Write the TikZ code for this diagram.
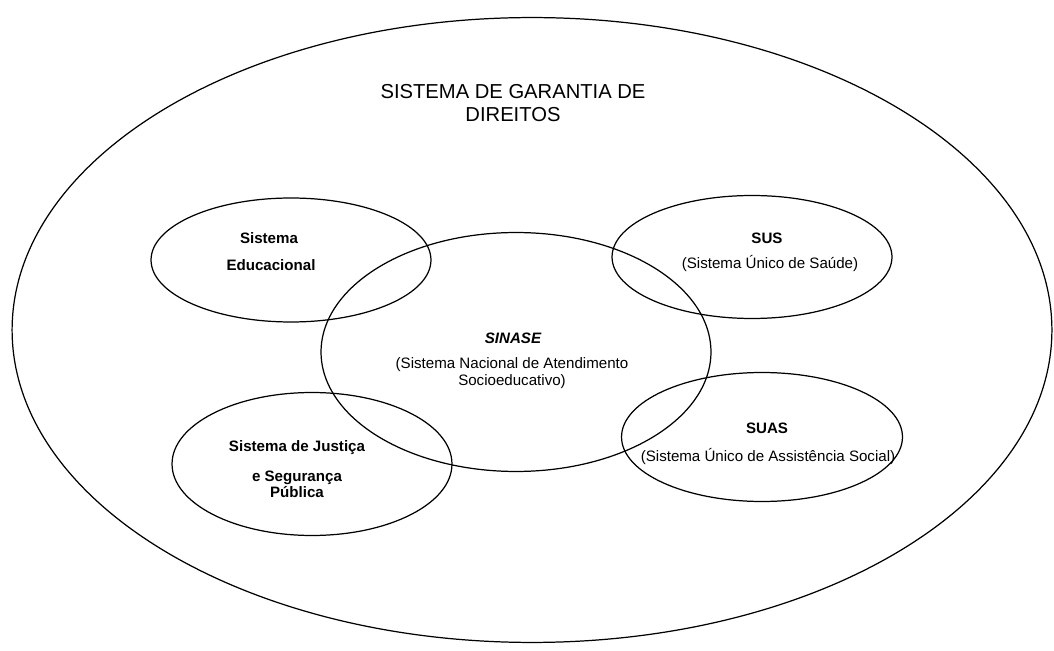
\documentclass[tikz,border=0pt]{standalone}
\usepackage{fontspec}
\setmainfont{Liberation Sans}
\usetikzlibrary{shapes.geometric}

\tikzset{
  sys/.style={draw, ellipse, line width=0.7pt, inner sep=0pt},
  lbl/.style={font=\fontsize{8.6}{9.2}\selectfont\bfseries, align=center},
  sub/.style={font=\fontsize{8.6}{9.6}\selectfont, align=center}
}

\begin{document}
\begin{tikzpicture}[x=0.02cm, y=-0.02cm]
  \useasboundingbox (0,0) rectangle (1054,651);
  % the outer system
  \node[sys, minimum width=20.8cm, minimum height=12.5cm] (sgd) at (532,330) {};
  \node[font=\fontsize{11.5}{13}\selectfont, align=center] (sgdtxt) at (513,103)
    {SISTEMA DE GARANTIA DE\\DIREITOS};

  % the four systems and the SINASE
  \node[sys, minimum width=5.6cm, minimum height=2.48cm] (edu) at (291,260) {};
  \node[sys, minimum width=5.6cm, minimum height=2.46cm] (sus) at (752,257) {};
  \node[sys, minimum width=7.8cm, minimum height=4.78cm] (sinase) at (516,352) {};
  \node[sys, minimum width=5.6cm, minimum height=2.86cm] (just) at (312,464) {};
  \node[sys, minimum width=5.62cm, minimum height=2.58cm] (suas) at (762,437) {};

  % texts
  \node[lbl] (edu1) at (269,238) {Sistema};
  \node[lbl] (edu2) at (271,265) {Educacional};
  \node[lbl] (sus1) at (767,238) {SUS};
  \node[sub] (sus2) at (770,264) {(Sistema Único de Saúde)};
  \node[lbl, font=\fontsize{8.6}{9.2}\selectfont\bfseries\itshape] (sin1) at (513,338) {SINASE};
  \node[sub] (sin2) at (512,373) {(Sistema Nacional de Atendimento\\Socioeducativo)};
  \node[lbl] (just1) at (297,448) {Sistema de Justiça};
  \node[lbl] (just2) at (297,484) {e Segurança\\Pública};
  \node[lbl] (suas1) at (767,428) {SUAS};
  \node[sub] (suas2) at (768,457) {(Sistema Único de Assistência Social)};
\end{tikzpicture}
\end{document}
